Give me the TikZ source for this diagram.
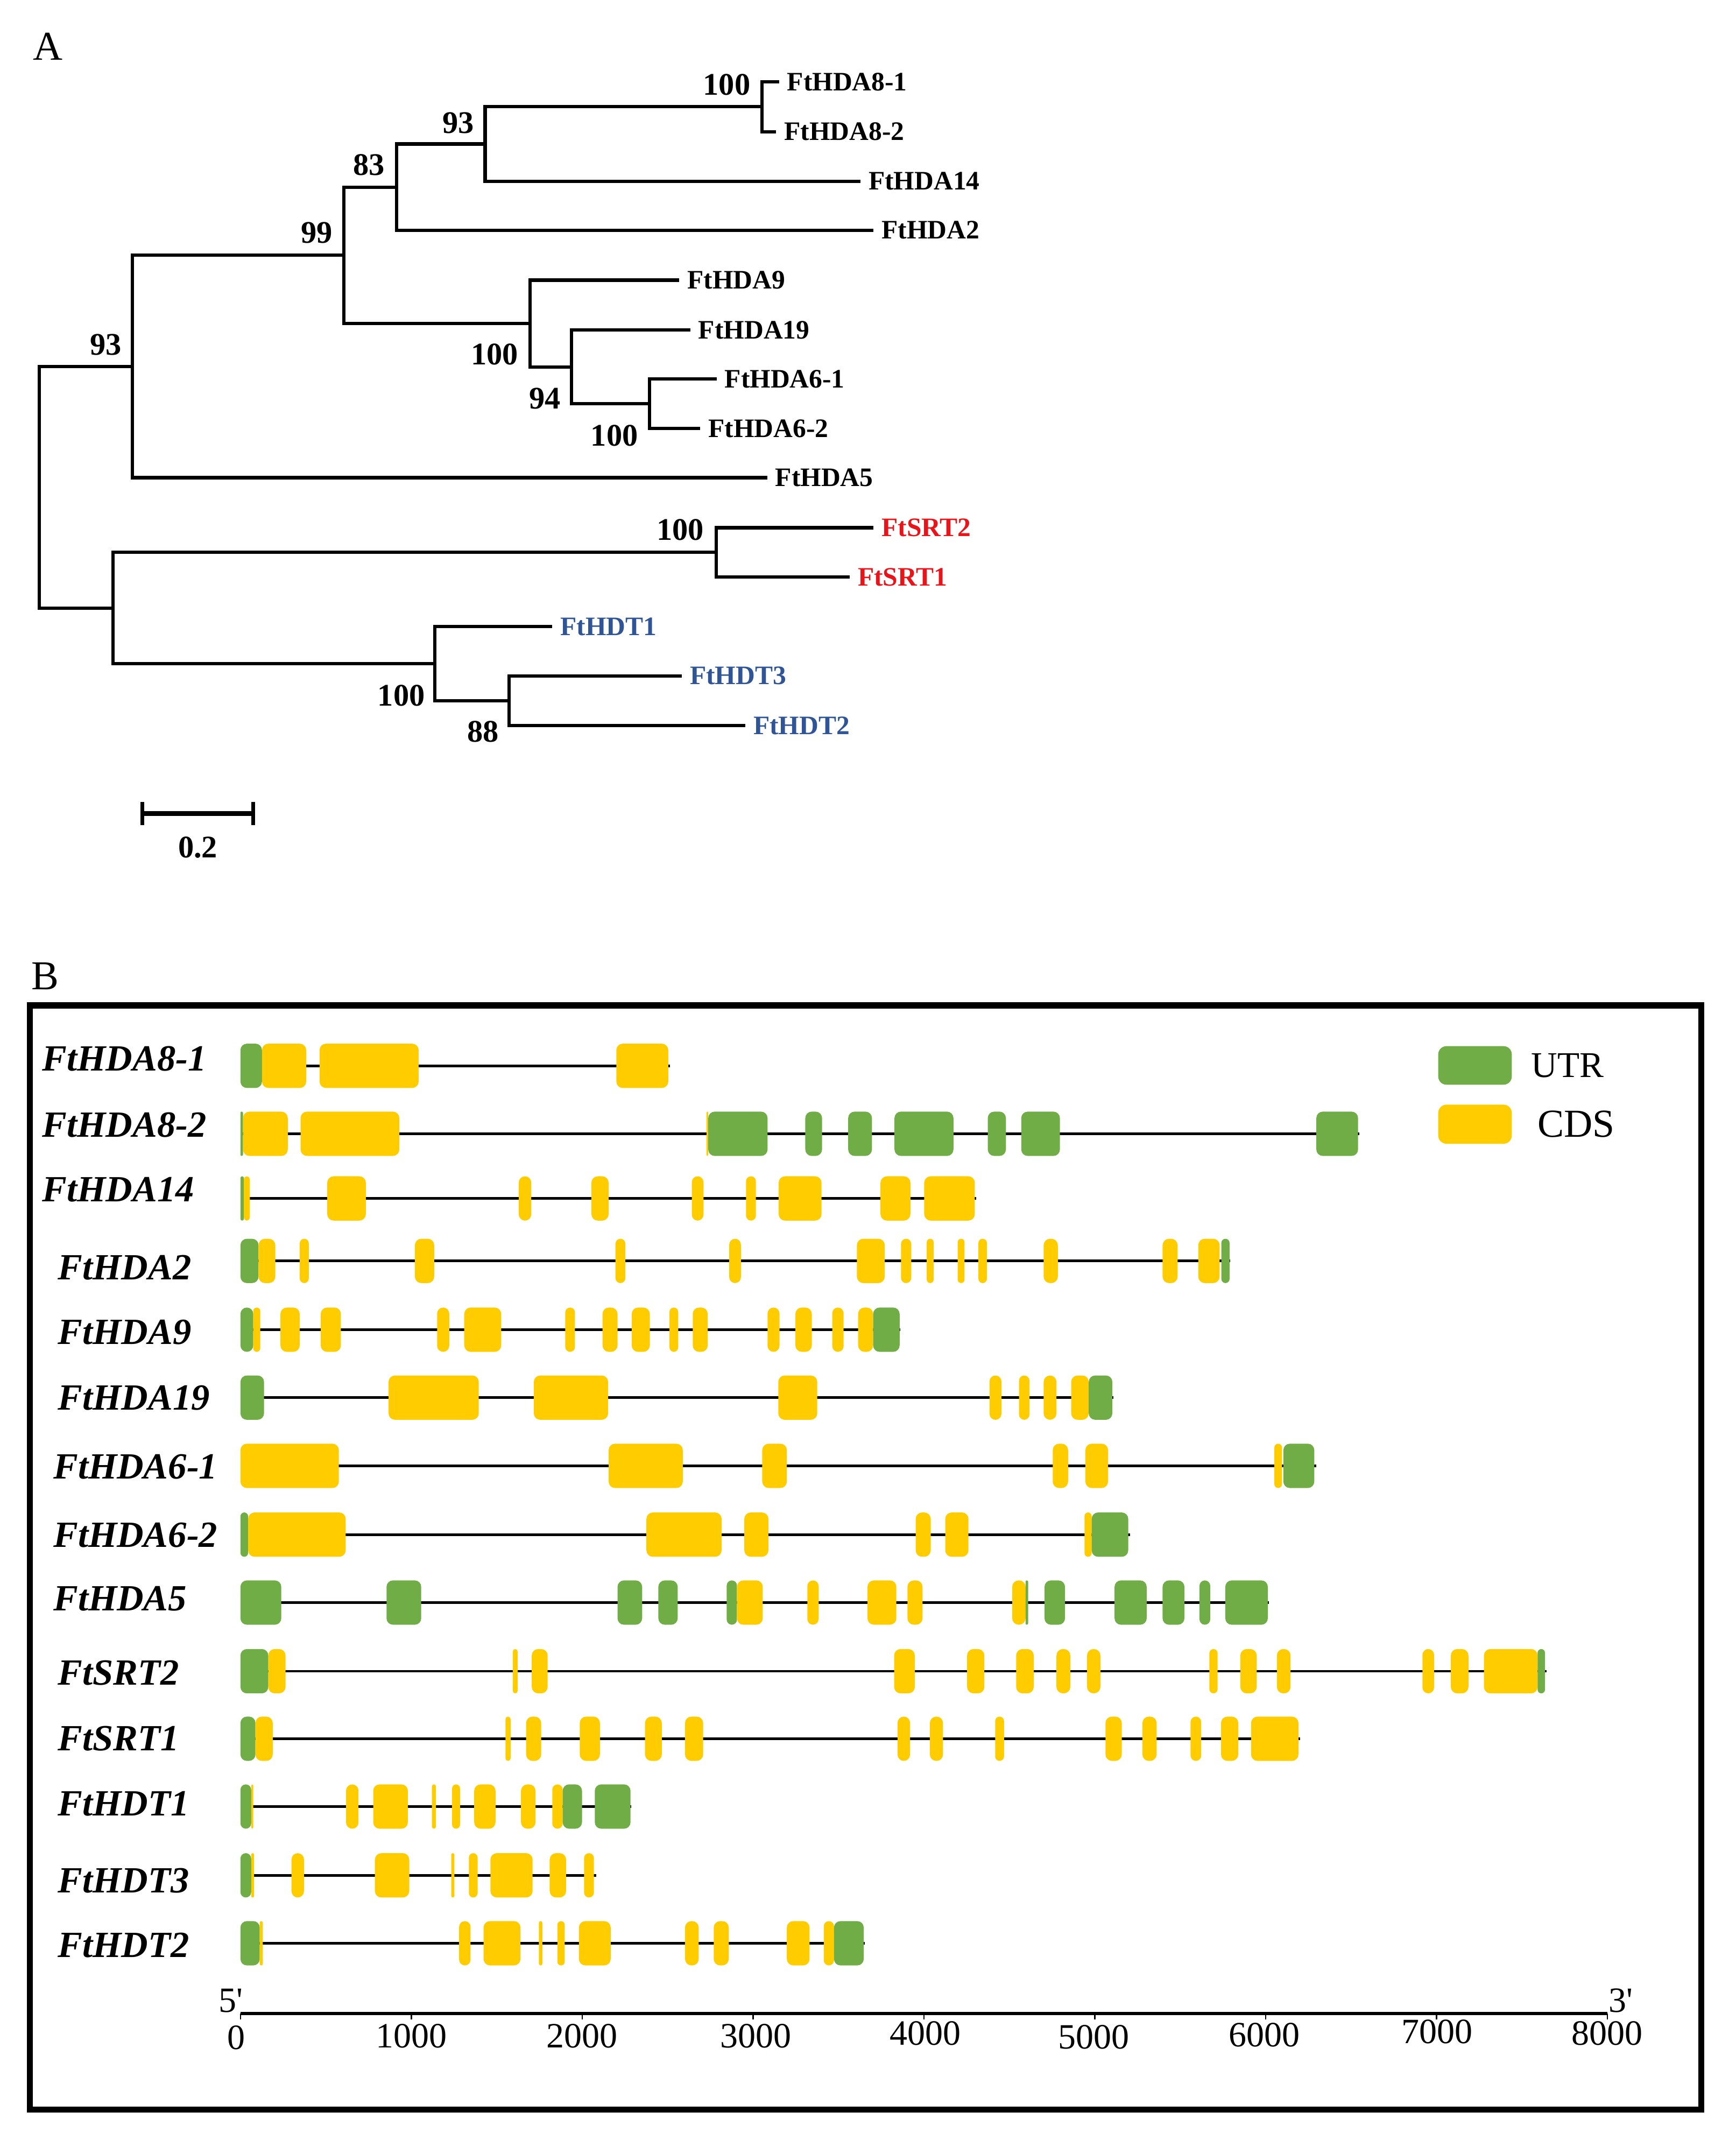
\documentclass[tikz,border=0pt]{standalone}
\usepackage{fontspec}
\setmainfont{Liberation Serif}
\definecolor{utr}{RGB}{112,173,71}
\definecolor{cds}{RGB}{255,204,0}
\definecolor{srtred}{RGB}{232,20,26}
\definecolor{hdtblue}{RGB}{47,85,151}
\newcommand\fsz[1]{\fontsize{#1}{#1}\selectfont}
% exon: colour, start bp, end bp, row y
\newcommand\exon[4]{%
  \pgfmathsetmacro\xa{175.9+#2*0.125}%
  \pgfmathsetmacro\xb{175.9+#3*0.125}%
  \pgfmathsetmacro\rr{min(4.7,(\xb-\xa)/2)}%
  \fill[#1, rounded corners=\rr pt] (\xa,{#4-16.2}) rectangle (\xb,{#4+16.2});%
}
\newcommand\intron[2]{%
  \pgfmathsetmacro\xe{175.9+#1*0.125}%
  \draw[intr] (175.9,#2) -- (\xe,#2);%
}
\newcommand\U[3]{\exon{utr}{#1}{#2}{#3}}
\newcommand\C[3]{\exon{cds}{#1}{#2}{#3}}
\begin{document}
\begin{tikzpicture}[x=1pt,y=-1pt,
  branch/.style={line width=2.4pt},
  leaf/.style={anchor=west, inner xsep=5.8pt, inner ysep=0pt, font=\fsz{19.5}\bfseries},
  boot/.style={inner sep=0pt, font=\fsz{23}\bfseries},
  gene/.style={anchor=west, inner sep=0pt, font=\fsz{27}\bfseries\itshape},
  axl/.style={inner sep=0pt, font=\fsz{26}},
  panel/.style={anchor=north west, inner sep=0pt, font=\fsz{30}},
  intr/.style={line width=1.9pt, black}]
\useasboundingbox (0,0) rectangle (1269.7,1560.2);

% ---------------- Panel A ----------------
\node[panel] (pA) at (23.9,23.9) {A};

\node[leaf] (l1) at (569.9,59.8) {FtHDA8-1};
\node[leaf] (l2) at (567.8,96.3) {FtHDA8-2};
\node[leaf] (l3) at (629.5,132.5) {FtHDA14};
\node[leaf] (l4) at (639.1,168.4) {FtHDA2};
\node[leaf] (l5) at (497.0,204.9) {FtHDA9};
\node[leaf] (l6) at (505.0,241.3) {FtHDA19};
\node[leaf] (l7) at (524.2,277.3) {FtHDA6-1};
\node[leaf] (l8) at (512.3,313.5) {FtHDA6-2};
\node[leaf] (l9) at (561.2,349.4) {FtHDA5};
\node[leaf, text=srtred] (l10) at (639.1,386.0) {FtSRT2};
\node[leaf, text=srtred] (l11) at (621.6,422.1) {FtSRT1};
\node[leaf, text=hdtblue] (l12) at (404.0,458.3) {FtHDT1};
\node[leaf, text=hdtblue] (l13) at (498.8,494.4) {FtHDT3};
\node[leaf, text=hdtblue] (l14) at (545.2,530.8) {FtHDT2};

\coordinate (n8) at (557.5,78.05);
\coordinate (n93b) at (354.9,105.3);
\coordinate (n83) at (290.0,136.9);
\coordinate (n6) at (475.3,295.4);
\coordinate (n94) at (418.0,268.35);
\coordinate (n9) at (387.9,236.6);
\coordinate (n99) at (251.7,186.75);
\coordinate (n93a) at (97.0,268.1);
\coordinate (nS) at (524.0,404.05);
\coordinate (nH2) at (372.6,512.6);
\coordinate (nH) at (318.1,485.45);
\coordinate (nL) at (82.6,444.75);
\coordinate (root) at (28.7,356.4);

\draw[branch] (l1.west) -| (n8) |- (l2.west);
\draw[branch] (n8) -| (n93b) |- (l3.west);
\draw[branch] (n93b) -| (n83) |- (l4.west);
\draw[branch] (l7.west) -| (n6) |- (l8.west);
\draw[branch] (l6.west) -| (n94) |- (n6);
\draw[branch] (l5.west) -| (n9) |- (n94);
\draw[branch] (n83) -| (n99) |- (n9);
\draw[branch] (n99) -| (n93a) |- (l9.west);
\draw[branch] (l10.west) -| (nS) |- (l11.west);
\draw[branch] (l13.west) -| (nH2) |- (l14.west);
\draw[branch] (l12.west) -| (nH) |- (nH2);
\draw[branch] (nS) -| (nL) |- (nH);
\draw[branch] (n93a) -| (root) |- (nL);

\node[boot] (b1) at (531.7,62.1) {100};
\node[boot] (b2) at (335.3,89.8) {93};
\node[boot] (b3) at (269.9,120.7) {83};
\node[boot] (b4) at (231.7,170.4) {99};
\node[boot] (b5) at (77.4,252.2) {93};
\node[boot] (b6) at (361.9,259.0) {100};
\node[boot] (b7) at (398.5,291.6) {94};
\node[boot] (b8) at (449.5,318.8) {100};
\node[boot] (b9) at (497.6,387.4) {100};
\node[boot] (b10) at (293.6,508.8) {100};
\node[boot] (b11) at (353.3,535.2) {88};

\coordinate (sb1) at (104.1,595);
\coordinate (sb2) at (185.3,595);
\draw[line width=3.5pt] (sb1) -- (sb2);
\draw[line width=3pt] ([yshift=8.5pt]sb1) -- ([yshift=-8.5pt]sb1);
\draw[line width=3pt] ([yshift=8.5pt]sb2) -- ([yshift=-8.5pt]sb2);
\node[boot] (sbl) at (144.7,620) {0.2};

% ---------------- Panel B ----------------
\node[panel] (pB) at (22.7,704) {B};
\draw[line width=4.5pt] (21.9,735.4) rectangle (1244.6,1543);

% legend
\fill[utr, rounded corners=6pt] (1052.2,765.2) rectangle (1106,793.4);
\fill[cds, rounded corners=6pt] (1052.2,808) rectangle (1106,836.6);
\node[anchor=west, inner sep=0pt, font=\fsz{26.5}] (lu) at (1120,779.5) {UTR};
\node[anchor=west, inner sep=0pt, font=\fsz{29}] (lc) at (1124.6,822.4) {CDS};

% gene labels
\node[gene] (g1) at (30.8,774.5) {FtHDA8-1};
\node[gene] (g2) at (30.8,822.7) {FtHDA8-2};
\node[gene] (g3) at (30.8,870.0) {FtHDA14};
\node[gene] (g4) at (42.2,927.1) {FtHDA2};
\node[gene] (g5) at (42.2,974.6) {FtHDA9};
\node[gene] (g6) at (42.2,1022.5) {FtHDA19};
\node[gene] (g7) at (38.9,1072.7) {FtHDA6-1};
\node[gene] (g8) at (38.9,1122.7) {FtHDA6-2};
\node[gene] (g9) at (38.9,1169.3) {FtHDA5};
\node[gene] (g10) at (42.2,1223.6) {FtSRT2};
\node[gene] (g11) at (42.2,1271.5) {FtSRT1};
\node[gene] (g12) at (42.2,1319.3) {FtHDT1};
\node[gene] (g13) at (42.2,1375.4) {FtHDT3};
\node[gene] (g14) at (42.2,1422.9) {FtHDT2};

% row 1 FtHDA8-1
\intron{2514}{779.6}
\U{0}{126}{779.6}\C{126}{385}{779.6}\C{463}{1043}{779.6}\C{2200}{2504}{779.6}
% row 2 FtHDA8-2
\intron{6549}{829.3}
\U{0}{15}{829.3}\C{15}{277}{829.3}\C{352}{930}{829.3}\C{2728}{2738}{829.3}
\U{2738}{3085}{829.3}\U{3306}{3404}{829.3}\U{3557}{3696}{829.3}\U{3828}{4173}{829.3}
\U{4374}{4480}{829.3}\U{4570}{4796}{829.3}\U{6297}{6541}{829.3}
% row 3 FtHDA14
\intron{4306}{876.6}
\U{0}{20}{876.6}\C{20}{55}{876.6}\C{508}{734}{876.6}\C{1629}{1702}{876.6}
\C{2054}{2155}{876.6}\C{2642}{2710}{876.6}\C{2959}{3017}{876.6}\C{3150}{3401}{876.6}
\C{3746}{3921}{876.6}\C{4002}{4298}{876.6}
% row 4 FtHDA2
\intron{5794}{922.3}
\U{0}{106}{922.3}\C{106}{204}{922.3}\C{347}{400}{922.3}\C{1021}{1134}{922.3}
\C{2195}{2253}{922.3}\C{2861}{2929}{922.3}\C{3608}{3771}{922.3}\C{3866}{3926}{922.3}
\C{4017}{4057}{922.3}\C{4198}{4238}{922.3}\C{4319}{4369}{922.3}\C{4701}{4784}{922.3}
\C{5397}{5485}{922.3}\C{5606}{5731}{922.3}\U{5741}{5789}{922.3}
% row 5 FtHDA9
\intron{3862}{972.6}
\U{0}{75}{972.6}\C{75}{116}{972.6}\C{234}{347}{972.6}\C{470}{588}{972.6}
\C{1151}{1222}{972.6}\C{1310}{1526}{972.6}\C{1901}{1958}{972.6}\C{2119}{2207}{972.6}
\C{2290}{2396}{972.6}\C{2511}{2562}{972.6}\C{2647}{2735}{972.6}\C{3085}{3155}{972.6}
\C{3248}{3344}{972.6}\C{3464}{3530}{972.6}\C{3615}{3703}{972.6}\U{3703}{3858}{972.6}
% row 6 FtHDA19
\intron{5108}{1022.3}
\U{0}{138}{1022.3}\C{867}{1395}{1022.3}\C{1717}{2152}{1022.3}\C{3148}{3376}{1022.3}
\C{4384}{4454}{1022.3}\C{4557}{4618}{1022.3}\C{4701}{4776}{1022.3}\C{4862}{4965}{1022.3}
\U{4965}{5103}{1022.3}
% row 7 FtHDA6-1
\intron{6297}{1072.2}
\C{0}{576}{1072.2}\C{2155}{2589}{1072.2}\C{3054}{3198}{1072.2}\C{4754}{4844}{1072.2}
\C{4945}{5078}{1072.2}\C{6051}{6096}{1072.2}\U{6104}{6285}{1072.2}
% row 8 FtHDA6-2
\intron{5206}{1122.5}
\U{0}{45}{1122.5}\C{45}{616}{1122.5}\C{2376}{2816}{1122.5}\C{2949}{3090}{1122.5}
\C{3952}{4040}{1122.5}\C{4125}{4261}{1122.5}\C{4940}{4982}{1122.5}\U{4982}{5196}{1122.5}
% row 9 FtHDA5
\intron{6018}{1172.2}
\U{0}{239}{1172.2}\U{855}{1058}{1172.2}\U{2207}{2351}{1172.2}\U{2446}{2559}{1172.2}
\U{2846}{2906}{1172.2}\C{2906}{3057}{1172.2}\C{3318}{3384}{1172.2}\C{3670}{3839}{1172.2}
\C{3904}{3992}{1172.2}\C{4517}{4595}{1172.2}\U{4595}{4610}{1172.2}\U{4706}{4826}{1172.2}
\U{5116}{5304}{1172.2}\U{5397}{5525}{1172.2}\U{5613}{5676}{1172.2}\U{5764}{6013}{1172.2}
% row 10 FtSRT2
\intron{7645}{1222.4}
\U{0}{163}{1222.4}\C{163}{264}{1222.4}\C{1594}{1622}{1222.4}\C{1705}{1798}{1222.4}
\C{3826}{3947}{1222.4}\C{4253}{4354}{1222.4}\C{4540}{4643}{1222.4}\C{4776}{4857}{1222.4}
\C{4955}{5033}{1222.4}\C{5671}{5719}{1222.4}\C{5852}{5948}{1222.4}\C{6066}{6146}{1222.4}
\C{6918}{6986}{1222.4}\C{7084}{7187}{1222.4}\C{7278}{7592}{1222.4}\U{7592}{7635}{1222.4}
% row 11 FtSRT1
\intron{6202}{1271.8}
\U{0}{88}{1271.8}\C{88}{189}{1271.8}\C{1551}{1581}{1271.8}\C{1672}{1760}{1271.8}
\C{1986}{2104}{1271.8}\C{2368}{2466}{1271.8}\C{2602}{2708}{1271.8}\C{3846}{3919}{1271.8}
\C{4035}{4112}{1271.8}\C{4417}{4469}{1271.8}\C{5063}{5158}{1271.8}\C{5279}{5362}{1271.8}
\C{5561}{5623}{1271.8}\C{5739}{5840}{1271.8}\C{5915}{6192}{1271.8}
% row 12 FtHDT1
\intron{2288}{1321.4}
\U{0}{63}{1321.4}\C{63}{75}{1321.4}\C{618}{691}{1321.4}\C{777}{980}{1321.4}
\C{1121}{1144}{1321.4}\C{1239}{1285}{1321.4}\C{1368}{1493}{1321.4}\C{1642}{1727}{1321.4}
\C{1825}{1886}{1321.4}\U{1886}{1999}{1321.4}\U{2074}{2283}{1321.4}
% row 13 FtHDT3
\intron{2082}{1371.7}
\U{0}{63}{1371.7}\C{63}{80}{1371.7}\C{299}{372}{1371.7}\C{787}{988}{1371.7}
\C{1234}{1252}{1371.7}\C{1337}{1388}{1371.7}\C{1463}{1710}{1371.7}\C{1810}{1906}{1371.7}
\C{2011}{2069}{1371.7}
% row 14 FtHDT2
\intron{3655}{1421.4}
\U{0}{113}{1421.4}\C{113}{131}{1421.4}\C{1280}{1347}{1421.4}\C{1423}{1639}{1421.4}
\C{1747}{1767}{1421.4}\C{1855}{1898}{1421.4}\C{1981}{2167}{1421.4}\C{2602}{2682}{1421.4}
\C{2770}{2858}{1421.4}\C{3198}{3331}{1421.4}\C{3414}{3474}{1421.4}\U{3474}{3648}{1421.4}

% axis
\coordinate (ax0) at (175.9,1472.7);
\coordinate (ax8) at (1175.9,1472.7);
\draw[line width=2.3pt] (ax0) -- (ax8);
\foreach \i in {0,...,8}{\draw[line width=1pt] (175.9+125*\i,1472.7) -- ++(0,4.5);}
\node[axl] (t0) at (172.7,1490.5) {0};
\node[axl] (t1) at (300.9,1489.2) {1000};
\node[axl] (t2) at (425.9,1489.2) {2000};
\node[axl] (t3) at (553.0,1489.2) {3000};
\node[axl] (t4) at (677.0,1487.4) {4000};
\node[axl] (t5) at (800.0,1490.1) {5000};
\node[axl] (t6) at (925.0,1488.4) {6000};
\node[axl] (t7) at (1051.3,1486.0) {7000};
\node[axl] (t8) at (1175.9,1487.4) {8000};
\node[axl] (p5) at (168.9,1463.3) {5\textquotesingle};
\node[axl] (p3) at (1185.8,1463.3) {3\textquotesingle};
\end{tikzpicture}
\end{document}
